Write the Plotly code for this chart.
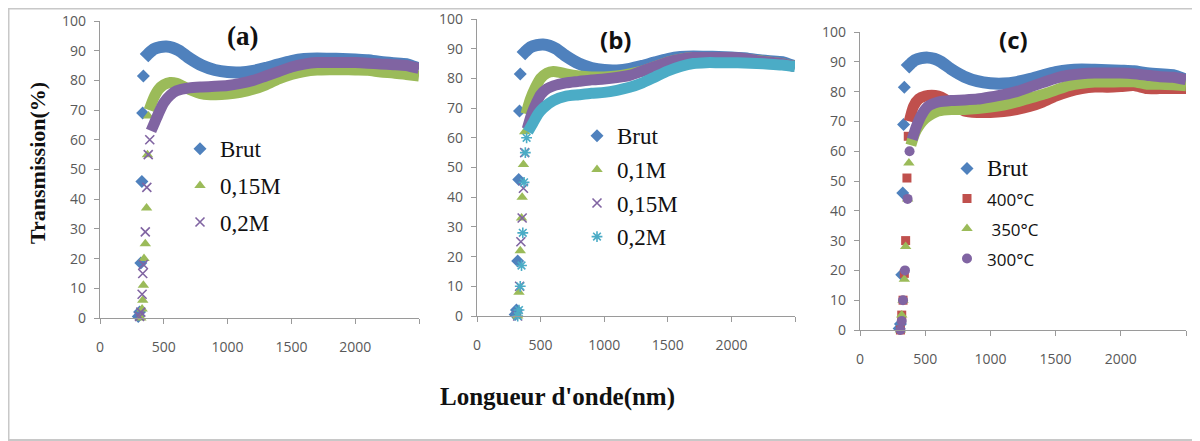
import plotly.graph_objects as go

# ---------------- data ----------------
# Brut (same film shown in all three panels)
brut_edge_wl = [300, 310, 320, 328, 334, 340]
brut_edge_t = [0.5, 2, 18.5, 46, 69, 81.5]
brut_wl = [345, 380, 420, 470, 520, 570, 620, 700, 800, 900, 1000, 1100, 1200, 1300,
           1400, 1500, 1600, 1700, 1800, 1900, 2000, 2100, 2200, 2300, 2400, 2500]
brut_t = [87.5, 89, 90.5, 91.2, 91.4, 91, 90, 87.5, 85, 83.5, 82.8, 82.7, 83.2, 84.2,
          85.4, 86.5, 87.2, 87.4, 87.3, 87.2, 87, 86.8, 86.2, 85.8, 85.5, 84]

# Panel (a)
a015_edge_wl = [320, 330, 335, 340, 345, 355, 365, 372, 380]
a015_edge_t = [0, 3, 6, 11, 20, 25, 37, 55, 68]
a015_wl = [385, 420, 460, 500, 550, 600, 650, 700, 800, 900, 1000, 1100, 1200, 1300,
           1400, 1500, 1600, 1700, 1800, 1900, 2000, 2100, 2200, 2300, 2400, 2500]
a015_t = [70, 74, 77, 78.5, 79.3, 79, 78, 77, 75.5, 75.2, 75.4, 76, 77, 78.5,
          80.5, 82, 83, 83.5, 83.6, 83.6, 83.5, 83.4, 82.8, 82.5, 82, 81.5]

a02_edge_wl = [310, 320, 330, 335, 340, 355, 367, 378, 390]
a02_edge_t = [0.5, 2, 8, 15, 18, 29, 44, 55, 60]
a02_wl = [400, 430, 460, 500, 550, 600, 700, 800, 900, 1000, 1100, 1200, 1300,
          1400, 1500, 1600, 1700, 1800, 1900, 2000, 2100, 2200, 2300, 2400, 2500]
a02_t = [63, 66, 69, 72.5, 75, 76.5, 77.5, 77.8, 78, 78.3, 79, 80, 81.5,
         83, 84.5, 85.5, 86, 86, 86, 86, 85.8, 85.5, 85.3, 85, 84]

# Panel (b)
b01_edge_wl = [320, 330, 340, 350, 355, 365, 375]
b01_edge_t = [0, 8, 22, 33, 40, 51, 62]
b01_wl = [385, 420, 460, 500, 550, 600, 650, 700, 800, 900, 1000, 1100, 1200, 1300,
          1400, 1500, 1600, 1700, 1800, 1900, 2000, 2100, 2200, 2300, 2400, 2500]
b01_t = [68, 73, 77, 80, 81.8, 82.3, 82, 81.5, 80.8, 80.5, 80.5, 80.8, 81.5, 82.5,
         84, 85.5, 86.5, 87, 87, 87, 86.8, 86.5, 86, 85.5, 85, 84]

b015_edge_wl = [320, 335, 345, 355, 365, 375]
b015_edge_t = [0, 10, 25, 33, 43, 55]
b015_wl = [395, 430, 470, 500, 550, 600, 700, 800, 900, 1000, 1100, 1200, 1300,
           1400, 1500, 1600, 1700, 1800, 1900, 2000, 2100, 2200, 2300, 2400, 2500]
b015_t = [63, 68, 72, 74.5, 76.5, 77.5, 78.5, 79, 79.5, 79.8, 80.3, 81, 82.5,
          84, 85.5, 86.5, 87, 87, 87, 87, 86.7, 86, 85.5, 85, 84]

b02_edge_wl = [320, 330, 340, 350, 360, 370, 380, 390]
b02_edge_t = [0, 2, 10, 17, 28, 45, 55, 60]
b02_wl = [400, 440, 480, 520, 600, 700, 800, 900, 1000, 1100, 1200, 1300,
          1400, 1500, 1600, 1700, 1800, 1900, 2000, 2100, 2200, 2300, 2400, 2500]
b02_t = [62, 65, 68, 70, 72.5, 74, 74.5, 75, 75.3, 76, 77, 78.5,
         80.5, 82.5, 84, 85, 85.3, 85.3, 85.3, 85.2, 85, 84.8, 84.5, 84]

# Panel (c)
c400_edge_wl = [310, 320, 330, 340, 350, 360, 370]
c400_edge_t = [0, 5, 10, 19, 30, 51, 65]
c400_wl = [378, 410, 450, 500, 550, 600, 650, 700, 800, 900, 1000, 1100, 1200, 1300,
           1400, 1500, 1600, 1700, 1800, 1900, 2000, 2100, 2200, 2300, 2400, 2500]
c400_t = [70, 75, 77.5, 78.5, 78.8, 78.5, 77.5, 76, 73.5, 73, 73, 73.3, 74, 75,
          76.5, 78.5, 80, 81, 81.5, 81.5, 81.7, 82, 81, 81, 81, 81]

c350_edge_wl = [310, 320, 330, 340, 350, 365, 375]
c350_edge_t = [0, 5, 10, 17, 28, 44, 56]
c350_wl = [390, 420, 460, 500, 550, 600, 700, 800, 900, 1000, 1100, 1200, 1300,
           1400, 1500, 1600, 1700, 1800, 1900, 2000, 2100, 2200, 2300, 2400, 2500]
c350_t = [62, 66, 69, 71, 72.5, 73.5, 74, 74, 74.3, 74.8, 75.5, 76.5, 77.8,
          79, 80.5, 82, 82.8, 83.2, 83.2, 83.3, 83.3, 82.5, 82.5, 82.3, 82]

c300_edge_wl = [310, 320, 330, 345, 365, 380]
c300_edge_t = [0, 3, 10, 20, 44, 60]
c300_wl = [400, 430, 470, 520, 600, 700, 800, 900, 1000, 1100, 1200, 1300,
           1400, 1500, 1600, 1700, 1800, 1900, 2000, 2100, 2200, 2300, 2400, 2500]
c300_t = [64, 68, 72, 75, 76.5, 77, 77.2, 77.5, 78.2, 79, 80, 81.5,
          83, 84.5, 85.5, 86, 86.2, 86.2, 86.2, 86, 85.5, 85, 84.8, 84]

x_tickvals = [0, 500, 1000, 1500, 2000, 2500]
x_ticktext = ["0", "500", "1000", "1500", "2000", ""]
y_tickvals = [0, 10, 20, 30, 40, 50, 60, 70, 80, 90, 100]

# ---------------- styling ----------------
BLUE = "#4F81BD"
RED = "#C0504D"
GREEN = "#9BBB59"
PURPLE = "#8064A2"
CYAN = "#4BACC6"

SERIF = "Liberation Serif"
SANS = "Open Sans"

# page body has an 8px margin: size the figure so that it fills the window exactly
OFF = 8
W, H = 1200 - OFF, 441 - OFF


def px_x(p):
    return (p - OFF) / W


def px_y(p):
    return 1 - (p - OFF) / H


fig = go.Figure()


def add_series(name, edge_wl, edge_t, wl, t, color, symbol, msize, axis_idx, legend, group,
               band=11, line_symbol=False):
    xa = "x" if axis_idx == 1 else f"x{axis_idx}"
    ya = "y" if axis_idx == 1 else f"y{axis_idx}"
    # thick band for the dense plateau region
    fig.add_trace(go.Scatter(
        x=wl, y=t, mode="lines",
        line=dict(color=color, width=band, shape="spline", smoothing=0.6),
        showlegend=False, hoverinfo="skip", xaxis=xa, yaxis=ya,
        legendgroup=group, legend=legend, cliponaxis=False))
    marker = dict(symbol=symbol, size=msize, color=color)
    if line_symbol:
        marker["line"] = dict(color=color, width=1.6)
    fig.add_trace(go.Scatter(
        x=edge_wl, y=edge_t, mode="markers", marker=marker, name=name,
        showlegend=True, xaxis=xa, yaxis=ya, legendgroup=group, legend=legend,
        cliponaxis=False))


def serif(txt, size=23):
    return f"<span style='font-family:{SERIF};font-size:{size}px'>{txt}</span>"


def sans(txt, size=17):
    return f"<span style='font-family:{SANS};font-size:{size}px'>{txt}</span>"


# panel (a)
add_series(serif("Brut"), brut_edge_wl, brut_edge_t, brut_wl, brut_t, BLUE, "diamond", 10, 1, "legend", "a1", band=12)
add_series(serif("0,15M"), a015_edge_wl, a015_edge_t, a015_wl, a015_t, GREEN, "triangle-up", 10, 1, "legend", "a2")
add_series(serif("0,2M"), a02_edge_wl, a02_edge_t, a02_wl, a02_t, PURPLE, "x-thin-open", 9, 1, "legend", "a3", line_symbol=True)

# panel (b)
add_series(serif("Brut"), brut_edge_wl, brut_edge_t, brut_wl, brut_t, BLUE, "diamond", 10, 2, "legend2", "b1", band=12)
add_series(serif("0,1M"), b01_edge_wl, b01_edge_t, b01_wl, b01_t, GREEN, "triangle-up", 10, 2, "legend2", "b2")
add_series(serif("0,15M"), b015_edge_wl, b015_edge_t, b015_wl, b015_t, PURPLE, "x-thin-open", 9, 2, "legend2", "b3", line_symbol=True)
add_series(serif("0,2M"), b02_edge_wl, b02_edge_t, b02_wl, b02_t, CYAN, "asterisk-open", 9, 2, "legend2", "b4", line_symbol=True)

# panel (c)
add_series(serif("Brut"), brut_edge_wl, brut_edge_t, brut_wl, brut_t, BLUE, "diamond", 10, 3, "legend3", "c1", band=12)
add_series(sans("400°C"), c400_edge_wl, c400_edge_t, c400_wl, c400_t, RED, "square", 9, 3, "legend3", "c2")
add_series(sans(" 350°C"), c350_edge_wl, c350_edge_t, c350_wl, c350_t, GREEN, "triangle-up", 10, 3, "legend3", "c3")
add_series(sans("300°C"), c300_edge_wl, c300_edge_t, c300_wl, c300_t, PURPLE, "circle", 10, 3, "legend3", "c4")

AXIS_COLOR = "#9A9A9A"
TICK_FONT = dict(family=SANS, size=14, color="#595959")

domains = {
    1: ((100, 419), (21, 318)),
    2: ((477, 795), (19, 316)),
    3: ((860, 1186), (32, 330)),
}
for i, ((x0, x1), (y0, y1)) in domains.items():
    xk = "xaxis" if i == 1 else f"xaxis{i}"
    yk = "yaxis" if i == 1 else f"yaxis{i}"
    ya = "y" if i == 1 else f"y{i}"
    xa = "x" if i == 1 else f"x{i}"
    fig.layout[xk] = dict(
        domain=[px_x(x0), px_x(x1)], anchor=ya, range=[0, 2500], automargin=False,
        showgrid=False, zeroline=False, showline=True, linecolor=AXIS_COLOR, linewidth=1.2,
        ticks="outside", ticklen=5, tickcolor=AXIS_COLOR, tickvals=x_tickvals,
        ticktext=x_ticktext, tickfont=TICK_FONT, ticklabelstandoff=11)
    fig.layout[yk] = dict(
        domain=[px_y(y1), px_y(y0)], anchor=xa, range=[0, 100], automargin=False,
        showgrid=False, zeroline=False, showline=True, linecolor=AXIS_COLOR, linewidth=1.2,
        ticks="outside", ticklen=5, tickcolor=AXIS_COLOR, tickvals=y_tickvals,
        tickfont=TICK_FONT, ticklabelstandoff=5)

legend_common = dict(traceorder="grouped", bgcolor="rgba(0,0,0,0)", xanchor="left",
                     yanchor="top", font=dict(family=SERIF, size=22, color="#111111"),
                     itemsizing="trace", itemwidth=30)
fig.update_layout(
    legend=dict(legend_common, x=px_x(180), y=px_y(128), tracegroupgap=5),
    legend2=dict(legend_common, x=px_x(577), y=px_y(115), tracegroupgap=2),
    legend3=dict(legend_common, x=px_x(947), y=px_y(149), tracegroupgap=1,
                 font=dict(family=SERIF, size=20, color="#111111")),
)

annotations = [
    dict(text="<b>(a)</b>", x=px_x(242), y=px_y(36), font=dict(family=SERIF, size=27, color="#111")),
    dict(text="<b>(b)</b>", x=px_x(615), y=px_y(40), font=dict(family=SANS, size=24, color="#111")),
    dict(text="<b>(c)</b>", x=px_x(1013), y=px_y(40), font=dict(family=SANS, size=24, color="#111")),
    dict(text="<b>Transmission(%)</b>", x=px_x(38), y=px_y(163), textangle=-90,
         font=dict(family=SERIF, size=22, color="#111")),
    dict(text="<b>Longueur d'onde(nm)</b>", x=px_x(557), y=px_y(397),
         font=dict(family=SERIF, size=25, color="#111")),
]
for a in annotations:
    a.update(xref="paper", yref="paper", showarrow=False, xanchor="center", yanchor="middle")
fig.update_layout(annotations=annotations)

fig.update_layout(
    width=W, height=H, margin=dict(l=0, r=0, t=0, b=0, pad=0, autoexpand=False),
    paper_bgcolor="white", plot_bgcolor="white",
    shapes=[dict(type="rect", xref="paper", yref="paper",
                 x0=px_x(8.5), x1=px_x(1197), y0=px_y(440), y1=px_y(8.5),
                 line=dict(color="#C8C8C8", width=2), fillcolor="rgba(0,0,0,0)")],
)

fig.write_html("out.html")
